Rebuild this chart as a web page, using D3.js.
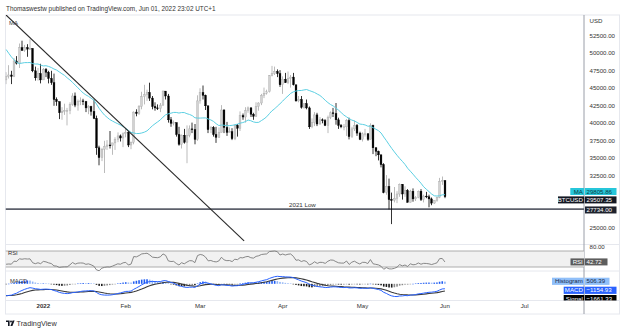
<!DOCTYPE html>
<html><head><meta charset="utf-8">
<script src="https://cdn.jsdelivr.net/npm/d3@7"></script>
<style>
html,body{margin:0;padding:0;background:#fff;}
svg{display:block;font-family:"Liberation Sans",Arial,sans-serif;}
</style></head><body>
<svg id="c" width="624" height="333"></svg>
<script>
// ---------------- DATA (prices in thousands USD) ----------------
const startDate = "2021-12-18";
const opens = [
46.2,46.7,46.9,46.7,48.9,48.6,50.8,50.4,50.8,50.6,50.7,47.5,46.5,47.1,
46.2,47.7,47.3,46.4,45.8,43.4,43.1,41.5,41.7,41.8,41.8,42.7,43.9,42.6,43.1,43.2,43.1,42.2,42.4,41.7,40.7,36.5,35.1,36.3,36.7,36.9,36.8,37.2,37.7,38.2,37.9,
38.5,38.7,36.9,37.3,41.6,41.4,42.4,43.8,44.1,44.4,43.6,42.4,42.2,42.1,42.6,44.6,43.9,40.5,40.0,40.1,38.4,37.0,38.3,37.3,38.3,39.2,39.1,37.7,
43.2,44.4,44.0,42.5,39.1,39.4,38.4,38.0,38.7,41.9,39.4,38.7,38.8,37.8,39.7,39.3,41.1,40.9,41.8,42.2,41.3,41.0,42.4,42.9,44.0,44.3,44.5,46.8,47.1,47.4,47.1,
45.5,46.3,45.8,46.4,46.6,45.5,43.2,43.4,42.3,42.8,42.2,39.5,40.1,41.2,39.9,40.5,40.4,39.7,40.8,41.5,41.4,40.5,39.7,39.5,39.5,40.4,38.1,39.2,39.7,38.6,
37.7,38.5,38.5,37.7,39.7,36.5,36.0,35.5,34.1,30.1,31.0,29.1,29.0,29.3,29.9,31.3,29.9,30.4,28.7,30.3,29.2,29.4,30.3,29.1,29.6,29.5,29.2,28.6,29.0,29.4,31.7,
31.8];
const highs = [
47.3,48.3,47.5,49.3,49.6,51.4,51.8,51.2,51.3,52.0,50.7,48.1,47.9,48.5,
47.9,47.9,47.5,47.5,47.1,43.7,43.1,42.3,42.8,42.2,43.0,44.3,44.4,43.4,43.7,43.5,43.2,42.6,42.5,43.4,41.1,36.8,36.5,37.5,37.6,38.9,37.2,38.0,38.7,38.4,38.7,
39.3,38.9,37.4,41.7,42.0,42.6,44.5,45.5,44.8,45.8,43.9,43.0,42.7,42.9,44.7,44.6,44.2,40.9,40.4,40.1,39.5,38.4,39.2,39.7,39.7,40.1,39.9,44.0,
45.0,45.4,44.1,42.5,39.6,39.6,39.5,39.4,42.6,42.0,40.2,39.4,39.3,39.9,39.9,41.7,41.4,42.3,42.4,42.3,41.5,43.0,43.0,44.2,45.1,44.8,46.9,48.2,48.1,47.7,47.6,
46.7,47.2,47.4,46.9,47.2,45.5,43.9,43.9,42.8,43.4,42.4,40.7,41.6,41.5,40.9,40.7,40.6,41.1,41.7,42.2,42.9,40.8,39.9,39.9,40.6,40.8,39.5,40.4,39.9,38.8,
38.7,39.2,38.6,40.0,39.8,36.6,36.1,35.5,34.3,32.6,32.1,30.1,30.9,30.3,31.4,31.3,31.0,30.6,30.5,30.7,29.6,30.4,30.6,29.8,30.2,29.8,29.4,29.0,29.5,32.2,32.4,
31.9];
const lows = [
45.6,46.4,45.6,46.6,48.4,47.9,50.4,50.2,49.5,50.5,47.3,46.1,46.1,45.7,
46.2,46.6,45.7,45.5,42.5,42.5,40.6,40.5,41.2,39.7,41.3,42.5,42.3,41.8,42.6,42.6,41.6,41.3,41.1,40.6,35.5,34.0,34.6,32.9,36.2,36.4,35.5,36.2,37.3,37.4,36.6,
38.0,36.6,36.3,37.0,41.0,41.2,42.0,42.7,43.2,43.2,42.0,41.8,41.9,41.6,42.5,43.4,40.1,39.5,39.7,38.1,36.8,36.4,37.1,34.3,38.0,38.6,37.0,37.5,
42.8,43.4,41.9,38.6,38.6,38.1,37.2,37.9,38.7,38.6,38.2,38.7,37.6,37.6,38.1,38.9,40.5,40.1,41.5,40.9,40.5,40.9,41.8,42.6,43.6,44.1,44.4,46.7,46.9,46.6,45.2,
44.2,45.8,45.6,45.1,45.4,43.1,43.0,42.1,42.1,42.0,39.2,39.3,39.6,39.6,39.8,40.0,39.6,38.6,40.6,40.9,39.8,39.2,39.3,39.0,38.2,37.7,37.9,38.9,38.2,37.6,
37.4,38.1,37.5,37.7,35.6,35.3,34.7,33.7,30.0,29.8,27.7,25.6,28.7,28.6,29.5,29.1,29.5,28.7,28.7,28.8,28.9,29.3,28.9,28.7,29.3,28.0,28.3,28.5,28.8,29.3,31.2,
29.3];
const closes = [
46.7,46.9,46.7,48.9,48.6,50.8,50.4,50.8,50.6,50.7,47.5,46.5,47.1,46.2,
47.7,47.3,46.4,45.8,43.4,43.1,41.5,41.7,41.8,41.8,42.7,43.9,42.6,43.1,43.2,43.1,42.2,42.4,41.7,40.7,36.5,35.1,36.3,36.7,36.9,36.8,37.2,37.7,38.2,37.9,38.5,
38.7,36.9,37.3,41.6,41.4,42.4,43.8,44.1,44.4,43.6,42.4,42.2,42.1,42.6,44.6,43.9,40.5,40.0,40.1,38.4,37.0,38.3,37.3,38.3,39.2,39.1,37.7,43.2,
44.4,44.0,42.5,39.1,39.4,38.4,38.0,38.7,41.9,39.4,38.7,38.8,37.8,39.7,39.3,41.1,40.9,41.8,42.2,41.3,41.0,42.4,42.9,44.0,44.3,44.5,46.8,47.1,47.4,47.1,45.5,
46.3,45.8,46.4,46.6,45.5,43.2,43.4,42.3,42.8,42.2,39.5,40.1,41.2,39.9,40.5,40.4,39.7,40.8,41.5,41.4,40.5,39.7,39.5,39.5,40.4,38.1,39.2,39.7,38.6,37.7,
38.5,38.5,37.7,39.7,36.5,36.0,35.5,34.1,30.1,31.0,29.1,29.0,29.3,29.9,31.3,29.9,30.4,28.7,30.3,29.2,29.4,30.3,29.1,29.6,29.5,29.2,28.6,29.0,29.4,31.7,31.8,
29.50735];
// closes before the visible range (Oct 1 - Dec 17 2021), used only to warm up the indicators
const warmupCloses = [
48.1,47.7,48.2,49.2,51.5,55.3,53.8,53.9,54.9,54.7,57.5,56.0,57.4,57.4,61.7,60.9,61.5,62.0,64.3,66.0,62.2,60.7,61.3,61.0,63.2,60.3,58.5,60.6,62.3,61.9,61.3,
61.3,63.0,62.9,61.4,61.0,61.5,63.3,67.5,66.9,64.9,64.9,64.2,64.4,65.5,63.6,60.1,60.4,56.9,58.1,59.7,58.7,56.3,57.6,57.2,58.9,53.6,54.8,57.2,57.8,57.0,
57.2,56.5,53.6,49.2,49.4,50.6,50.5,50.6,47.6,47.1,49.3,50.1,46.7,48.4,48.9,47.6,46.2];

const priceTicks = [25000,32500,35000,37500,40000,42500,45000,47500,50000,52500];
const monthTicks = ["2022-01-01","2022-02-01","2022-03-01","2022-04-01","2022-05-01","2022-06-01","2022-07-01"];
const monthLabels = ["2022","Feb","Mar","Apr","May","Jun","Jul"];
const supportLevel = 27734;
const supportLabel = "2021 Low";
const trendPoints = [["2021-12-18T00:00", 55470], ["2022-03-17T12:00", 23200]];
const lastLabels = {ma: 29805.86, price: 29507.35, rsi: 42.72, hist: 506.39, macd: -1154.93, signal: -1661.33};
const titleText = "Thomaswestw published on TradingView.com, Jun 01, 2022 23:02 UTC+1";

// ---------------- LAYOUT ----------------
const L = 5.5, R = 584, RE = 619.5;
const mainTop = 15, mainBot = 244.5, rsiTop = 244.5, rsiBot = 271, macdTop = 271, macdBot = 300.5, axisBot = 314;

const svg = d3.select("#c");
const parse = d3.utcParse("%Y-%m-%dT%H:%M");
const pd = d3.utcParse("%Y-%m-%d");
const day0 = pd(startDate);

const data = closes.map((c,i)=>({date:d3.utcDay.offset(day0,i), o:opens[i]*1000, h:highs[i]*1000, l:lows[i]*1000, c:c*1000}));
const allC = warmupCloses.concat(closes).map(v=>v*1000);
const nW = warmupCloses.length;

// indicators
function sma(a,n){return a.map((v,i)=> i<n-1?null:d3.mean(a.slice(i-n+1,i+1)));}
function ema(a,n){const k=2/(n+1);const out=[];let e=null;
  a.forEach((v,i)=>{ if(v==null){out.push(null);return;}
    if(e==null){e=v;} else e=k*v+(1-k)*e; out.push(e);});return out;}
function rsiCalc(a,n){const out=[null];let ag=0,al=0;
  for(let i=1;i<a.length;i++){const ch=a[i]-a[i-1];const g=Math.max(ch,0),l=Math.max(-ch,0);
    if(i<=n){ag+=g/n;al+=l/n; out.push(i===n?100-100/(1+ag/al):null);}
    else {ag=(ag*(n-1)+g)/n; al=(al*(n-1)+l)/n; out.push(100-100/(1+ag/al));}}
  return out;}
const ma20 = sma(allC,20).slice(nW);
const rsi14 = rsiCalc(allC,14).slice(nW);
const e12 = ema(allC,12), e26 = ema(allC,26);
const macdAll = e12.map((v,i)=>v-e26[i]);
const sigAll = ema(macdAll,9);
const macd = macdAll.slice(nW), sig = sigAll.slice(nW);
const hist = macd.map((v,i)=>v-sig[i]);

// scales
const x = d3.scaleUtc().domain([pd("2022-01-01"), pd("2022-07-01")]).range([43.3, 524.7]);
const y = d3.scaleLinear().domain([25000,52500]).range([228.3,35.8]);
const yR = d3.scaleLinear().domain([30,70]).range([267,251]);
const yM = d3.scaleLinear().domain([-3900,3000]).range([macdBot,macdTop]);

// frame
svg.append("rect").attr("x",0).attr("y",0).attr("width",624).attr("height",333).attr("fill","#fff");
svg.append("rect").attr("x",L).attr("y",mainTop).attr("width",RE-L).attr("height",axisBot-mainTop)
  .attr("fill","none").attr("stroke","#e6e8ee").attr("stroke-width",1);
[rsiTop, macdTop, macdBot].forEach(yy=>svg.append("line").attr("x1",L).attr("x2",RE).attr("y1",yy).attr("y2",yy).attr("stroke","#e6e8ee"));
svg.append("line").attr("x1",R).attr("x2",R).attr("y1",mainTop).attr("y2",axisBot).attr("stroke","#9a9ea8").attr("stroke-width",1);

// clips
const defs = svg.append("defs");
defs.append("clipPath").attr("id","cm").append("rect").attr("x",L).attr("y",mainTop).attr("width",R-L).attr("height",mainBot-mainTop);
defs.append("clipPath").attr("id","cr").append("rect").attr("x",L).attr("y",rsiTop).attr("width",R-L).attr("height",rsiBot-rsiTop);
defs.append("clipPath").attr("id","cd").append("rect").attr("x",L).attr("y",macdTop).attr("width",R-L).attr("height",macdBot-macdTop);
defs.append("clipPath").attr("id","cl").append("rect").attr("x",0).attr("y",mainTop).attr("width",RE).attr("height",macdBot-mainTop);

// title
svg.append("text").attr("x",6).attr("y",10.5).attr("font-size",6.4).attr("fill","#333").text(titleText);

// ---- main pane
const gm = svg.append("g").attr("clip-path","url(#cm)");
gm.append("line").attr("x1",L).attr("x2",R).attr("y1",y(supportLevel)).attr("y2",y(supportLevel))
  .attr("stroke","#5d606b").attr("stroke-width",1.6);
gm.append("text").attr("x",289).attr("y",y(supportLevel)-2.6).attr("font-size",6.2).attr("fill","#333").text(supportLabel);
const bw = 1.8;
const cg = gm.append("g");
data.forEach(d=>{
  const up = d.c >= d.o;
  const cx = Math.round(x(d.date)*2)/2;
  cg.append("line").attr("x1",cx).attr("x2",cx).attr("y1",y(d.h)).attr("y2",y(d.l))
    .attr("stroke", up?"#a9a9a9":"#000").attr("stroke-width",0.8);
  const yt = y(Math.max(d.o,d.c)), yb = y(Math.min(d.o,d.c));
  cg.append("rect").attr("x",cx-bw/2).attr("width",bw).attr("y",yt).attr("height",Math.max(0.8,yb-yt))
    .attr("fill", up?"#d2d2d2":"#000").attr("stroke", up?"#a9a9a9":"#000").attr("stroke-width",0.4);
});
gm.append("path").datum(data.map((d,i)=>[d.date,ma20[i]]))
  .attr("d",d3.line().x(p=>x(p[0])).y(p=>y(p[1]))).attr("fill","none").attr("stroke","#5ccfe2").attr("stroke-width",1);
gm.append("line").attr("x1",x(parse(trendPoints[0][0]))).attr("y1",y(trendPoints[0][1]))
  .attr("x2",x(parse(trendPoints[1][0]))).attr("y2",y(trendPoints[1][1]))
  .attr("stroke","#2a2a2a").attr("stroke-width",1.1);
gm.append("text").attr("x",9).attr("y",24.5).attr("font-size",6).attr("fill","#444").text("MA");

// price axis
const ax = svg.append("g");
priceTicks.forEach(t=>ax.append("text").attr("x",589.5).attr("y",y(t)+2.1).attr("font-size",6.1).attr("fill","#333").text(d3.format(".2f")(t)));
ax.append("text").attr("x",589.5).attr("y",23).attr("font-size",6.1).attr("fill","#333").text("USD");

// ---- RSI pane
const gr = svg.append("g").attr("clip-path","url(#cr)");
gr.append("rect").attr("x",L).attr("width",R-L).attr("y",yR(70)).attr("height",yR(30)-yR(70)).attr("fill","#f1f1f1");
[70,30].forEach(v=>gr.append("line").attr("x1",L).attr("x2",R).attr("y1",yR(v)).attr("y2",yR(v)).attr("stroke","#a5a5a5").attr("stroke-width",0.9));
gr.append("path").datum(data.map((d,i)=>[d.date,rsi14[i]]))
  .attr("d",d3.line().x(p=>x(p[0])).y(p=>yR(p[1]))).attr("fill","none").attr("stroke","#7b7b7b").attr("stroke-width",0.9);
svg.append("text").attr("x",8).attr("y",255).attr("font-size",5.8).attr("fill","#333").text("RSI");
svg.append("text").attr("x",589.5).attr("y",yR(80)+2.1).attr("font-size",6.1).attr("fill","#333").text("80.00");

// ---- MACD pane
const gd = svg.append("g").attr("clip-path","url(#cd)");
data.forEach((d,i)=>{
  const h = hist[i], hp = i>0?hist[i-1]:h;
  const col = h>=0 ? (h>=hp?"#1f5cf2":"#8fb3f5") : (h<=hp?"#1b1b1b":"#8a8a8a");
  const y0 = yM(0), y1 = yM(h);
  gd.append("rect").attr("x",x(d.date)-0.8).attr("width",1.6).attr("y",Math.min(y0,y1)).attr("height",Math.max(0.5,Math.abs(y1-y0))).attr("fill",col);
});
gd.append("path").datum(data.map((d,i)=>[d.date,sig[i]]))
  .attr("d",d3.line().x(p=>x(p[0])).y(p=>yM(p[1]))).attr("fill","none").attr("stroke","#3a3a3a").attr("stroke-width",1.1);
gd.append("path").datum(data.map((d,i)=>[d.date,macd[i]]))
  .attr("d",d3.line().x(p=>x(p[0])).y(p=>yM(p[1]))).attr("fill","none").attr("stroke","#2962ff").attr("stroke-width",1);
svg.append("text").attr("x",10).attr("y",282.5).attr("font-size",5.8).attr("fill","#333").text("MACD");

// ---- value tags (drawn on top)
function tag(parent, xl, xr, yc, h, bg, fg, txt, anchor){
  parent.append("rect").attr("x",xl).attr("y",yc-h/2).attr("width",xr-xl).attr("height",h).attr("fill",bg);
  parent.append("text").attr("x",anchor==="end"?xr-1.5:xl+1.5).attr("y",yc+2.1).attr("font-size",6.1)
    .attr("fill",fg).attr("text-anchor",anchor==="end"?"end":"start").text(txt);
}
const lg = svg.append("g").attr("clip-path","url(#cl)");
let yPrice = y(lastLabels.price), yMA = y(lastLabels.ma);
if (yPrice - yMA < 8) { const mid=(yPrice+yMA)/2; yMA = mid-4.2; yPrice = mid+4.2; }
tag(lg, 570.3, 584.3, yMA, 7, "#26c6da", "#0b3d44", "MA", "end");
tag(lg, 585, 616.5, yMA, 7, "#26c6da", "#0b3d44", d3.format(".2f")(lastLabels.ma), "start");
tag(lg, 558, 584.3, yPrice, 7, "#131722", "#fff", "BTCUSD", "end");
tag(lg, 585, 616.5, yPrice, 7, "#131722", "#fff", d3.format(".2f")(lastLabels.price), "start");
tag(lg, 585, 616.5, y(supportLevel)+0.8, 7, "#1e222d", "#fff", d3.format(".2f")(supportLevel), "start");
tag(lg, 570.5, 584.3, yR(lastLabels.rsi), 7, "#5d5d5d", "#fff", "RSI", "end");
tag(lg, 585, 607.5, yR(lastLabels.rsi), 7, "#5d5d5d", "#fff", d3.format(".2f")(lastLabels.rsi), "start");
tag(lg, 552, 584.3, 281.3, 7.2, "#90bff9", "#1a2b4a", "Histogram", "end");
tag(lg, 585, 609.5, 281.3, 7.2, "#90bff9", "#1a2b4a", d3.format(".2f")(lastLabels.hist), "start");
tag(lg, 563.7, 584.3, 290.3, 7.2, "#2962ff", "#fff", "MACD", "end");
tag(lg, 585, 616.5, 290.3, 7.2, "#2962ff", "#fff", d3.format(".2f")(lastLabels.macd).replace("-","\u2212"), "start");
tag(lg, 563.7, 584.3, 298.6, 7.2, "#000", "#fff", "Signal", "end");
tag(lg, 585, 616.5, 298.6, 7.2, "#000", "#fff", d3.format(".2f")(lastLabels.signal).replace("-","\u2212"), "start");

// ---- x axis
monthTicks.forEach((m,i)=>{
  svg.append("text").attr("x",x(pd(m))).attr("y",308.3).attr("text-anchor","middle").attr("font-size",6.1)
    .attr("font-weight", i===0?"bold":"normal").attr("fill","#333").text(monthLabels[i]);
});

// ---- footer logo
const lgo = svg.append("g").attr("transform","translate(6,320.5)");
lgo.append("path").attr("d","M0,0 H3.6 V5.5 H2 V1.5 H0 Z").attr("fill","#131722");
lgo.append("circle").attr("cx",5).attr("cy",1).attr("r",0.95).attr("fill","#131722");
lgo.append("path").attr("d","M6.6,0 H8.6 L6.4,5.5 H4.4 Z").attr("fill","#131722");
svg.append("text").attr("x",16.5).attr("y",326).attr("font-size",7.3).attr("fill","#333").text("TradingView");
</script>
</body></html>
